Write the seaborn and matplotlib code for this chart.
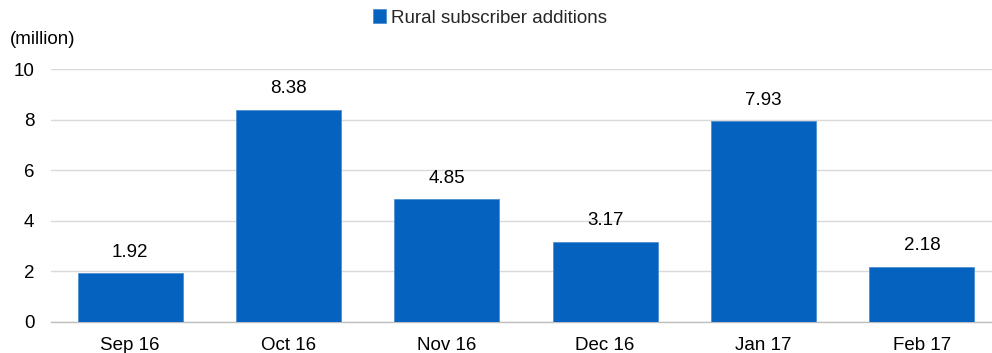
import matplotlib
matplotlib.use("Agg")
import matplotlib.pyplot as plt
from matplotlib.ticker import FixedLocator
import seaborn as sns
import pandas as pd

months = ["Sep 16", "Oct 16", "Nov 16", "Dec 16", "Jan 17", "Feb 17"]
additions = [1.92, 8.38, 4.85, 3.17, 7.93, 2.18]
series_name = "Rural subscriber additions"
unit_label = "(million)"
y_ticks = [0, 2, 4, 6, 8, 10]

sns.set_theme(style="white")
plt.rcParams["font.family"] = ["Liberation Sans", "DejaVu Sans"]

BLUE = "#0563BF"
GRID = "#D9D9D9"
AXIS = "#BFBFBF"
FS = 13.5

df = pd.DataFrame({"month": months, "value": additions})

fig = plt.figure(figsize=(9.92, 3.53), dpi=100)
ax = fig.add_axes([51 / 992, 31 / 353, 950 / 992, 253 / 353])

sns.barplot(data=df, x="month", y="value", color=BLUE, width=0.665,
            saturation=1, edgecolor="#4F8FD0", linewidth=0.6, ax=ax,
            label=series_name, zorder=3)

ax.set_ylim(0, 10)
ax.set_xlim(-0.5, len(months) - 0.5)
ax.set_yticks(y_ticks)
ax.yaxis.grid(True, color=GRID, linewidth=1, zorder=0)
ax.set_axisbelow(True)
ax.set_xlabel("")
ax.set_ylabel("")

for side in ["top", "right", "left"]:
    ax.spines[side].set_visible(False)
ax.spines["bottom"].set_color(AXIS)
ax.spines["bottom"].set_linewidth(1)

ax.tick_params(axis="y", length=0, pad=12, labelsize=FS, labelcolor="black")
ax.tick_params(axis="x", which="major", length=0, pad=11, labelsize=FS,
               labelcolor="black")
ax.xaxis.set_minor_locator(FixedLocator([i - 0.5 for i in range(len(months) + 1)]))
ax.tick_params(axis="x", which="minor", length=4, width=1, color=AXIS,
               direction="out")

for i, v in enumerate(additions):
    ax.annotate(f"{v:.2f}", (i, v), xytext=(0, 9), textcoords="offset points",
                ha="center", va="bottom", fontsize=FS, color="black")

fig.text(10 / 992, 1 - 40 / 353, unit_label, fontsize=FS, va="center",
         ha="left", color="black")

handles, labels = ax.get_legend_handles_labels()
if ax.legend_:
    ax.legend_.remove()
fig.legend(handles, labels, loc="center", bbox_to_anchor=(0.494, 1 - 18 / 353),
           frameon=False, fontsize=FS, handlelength=0.7, handleheight=0.7,
           handletextpad=0.3, borderaxespad=0)

fig.savefig("out.png", dpi=100)
